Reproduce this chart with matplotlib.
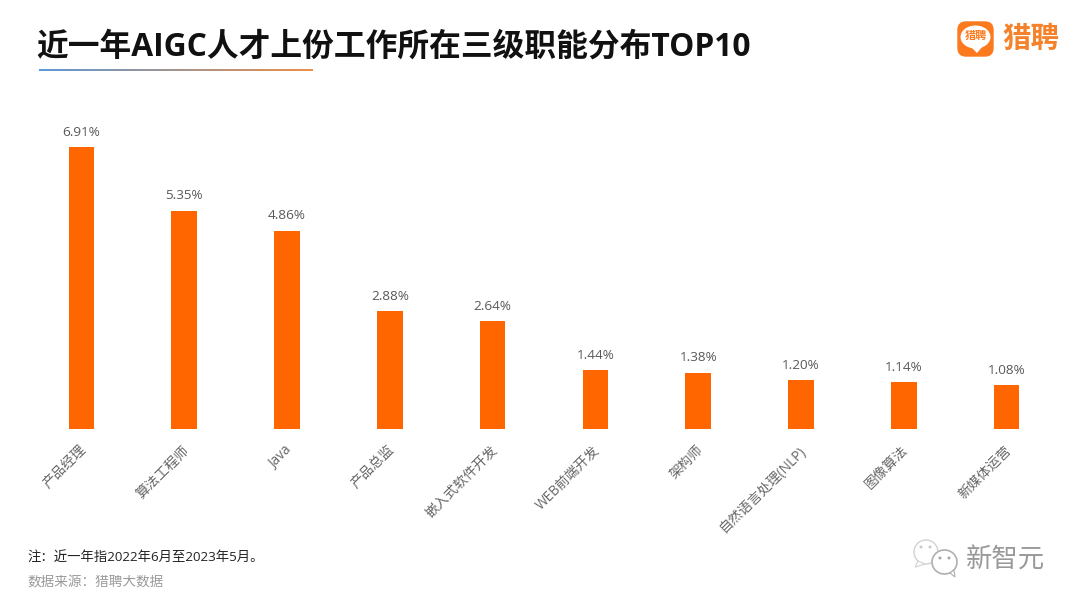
import matplotlib
matplotlib.use('Agg')
import matplotlib.pyplot as plt
from matplotlib.patches import FancyBboxPatch, Ellipse, Polygon
from matplotlib.transforms import ScaledTranslation
import numpy as np

# latin text in Open Sans, chinese falls through to Noto
plt.rcParams['font.family'] = ['Open Sans', 'Noto Sans CJK SC', 'DejaVu Sans']

categories = ['产品经理', '算法工程师', 'Java', '产品总监', '嵌入式软件开发',
              'WEB前端开发', '架构师', '自然语言处理(NLP)', '图像算法', '新媒体运营']
values = [6.91, 5.35, 4.86, 2.88, 2.64, 1.44, 1.38, 1.20, 1.14, 1.08]

W, H = 1080, 608
ORANGE = '#FF6600'

fig = plt.figure(figsize=(W / 100, H / 100), dpi=100, facecolor='white')

# main chart, placed in pixels
ax = fig.add_axes([30 / W, (H - 429) / H, 1028 / W, 326.6 / H])
x = np.arange(len(values))
ax.bar(x, values, width=0.25, color=ORANGE)
ax.set_xlim(-0.5, len(values) - 0.5)
ax.set_ylim(0, 8)
ax.set_yticks([])
ax.set_xticks(x)
ax.set_xticklabels(categories, rotation=45, ha='right', va='top', rotation_mode='anchor',
                   fontsize=9.8, color='#666666')
ax.tick_params(axis='x', length=0, pad=10)
shift = ScaledTranslation(-2.5 / 100, 0, fig.dpi_scale_trans)
for lab in ax.get_xticklabels():
    lab.set_transform(lab.get_transform() + shift)
for s in ax.spines.values():
    s.set_visible(False)
for i, v in enumerate(values):
    ax.annotate('%.2f%%' % v, (i, v), xytext=(0, 6), textcoords='offset points',
                ha='center', va='bottom', fontsize=9.7, color='#595959')

# overlay in pixel coordinates, y going down
ov = fig.add_axes([0, 0, 1, 1], facecolor='none')
ov.set_xlim(0, W)
ov.set_ylim(H, 0)
ov.axis('off')

ov.text(36, 47, '近一年AIGC人才上份工作所在三级职能分布TOP10', fontsize=22.85, fontweight='bold',
        color='#111111', ha='left', va='center')

# gradient rule under the title
grad = np.linspace(0, 1, 256)[None, :, None]
c0 = np.array([0.36, 0.60, 0.84])
c1 = np.array([0.93, 0.56, 0.28])
ov.imshow(c0 + (c1 - c0) * grad, extent=(39, 313, 71, 69), aspect='auto', zorder=2)
ov.set_xlim(0, W)
ov.set_ylim(H, 0)

# logo
ov.add_patch(FancyBboxPatch((958, 22), 35, 34, boxstyle='round,pad=0,rounding_size=8',
                            fc='#FB7A1E', ec='#FB7A1E', lw=1.0))
ov.add_patch(Ellipse((975.5, 37), 30, 23, fc='white', ec='none'))
ov.add_patch(Polygon([[970, 46], [983, 46], [977, 53]], fc='white', ec='none'))
ov.text(975.5, 37, '猎聘', fontsize=8, color='#FB7A1E', ha='center', va='center', fontweight='bold')
ov.text(1030.5, 39, '猎聘', fontsize=20.5, color='#F5822A', ha='center', va='center', fontweight='bold')

# footer
ov.text(27, 558, '注：近一年指2022年6月至2023年5月。', fontsize=9.6, color='#222222', ha='left', va='center')
ov.text(27, 583, '数据来源：猎聘大数据', fontsize=9.8, color='#9A9A9A', ha='left', va='center')

# watermark
ov.add_patch(Ellipse((926, 552), 24, 24, fc='white', ec='#D2D2D2', lw=1.0))
ov.add_patch(Polygon([[918, 561], [915, 567], [925, 564]], fc='white', ec='#D2D2D2', lw=0.8))
ov.add_patch(Ellipse((944.5, 562), 25, 24, fc='white', ec='#B0B0B0', lw=1.2))
ov.add_patch(Polygon([[950, 573], [955, 577], [954, 570]], fc='white', ec='#B0B0B0', lw=0.8))
for px, py, col in [(921, 547, '#C9C9C9'), (930, 547, '#C9C9C9'), (940, 558, '#A8A8A8'), (949, 558, '#A8A8A8')]:
    ov.add_patch(Ellipse((px, py), 3, 3, fc=col, ec='none'))
ov.text(1005.5, 561, '新智元', fontsize=19, color='#999999', ha='center', va='center', fontweight='light')

fig.savefig('out.png', dpi=100)
